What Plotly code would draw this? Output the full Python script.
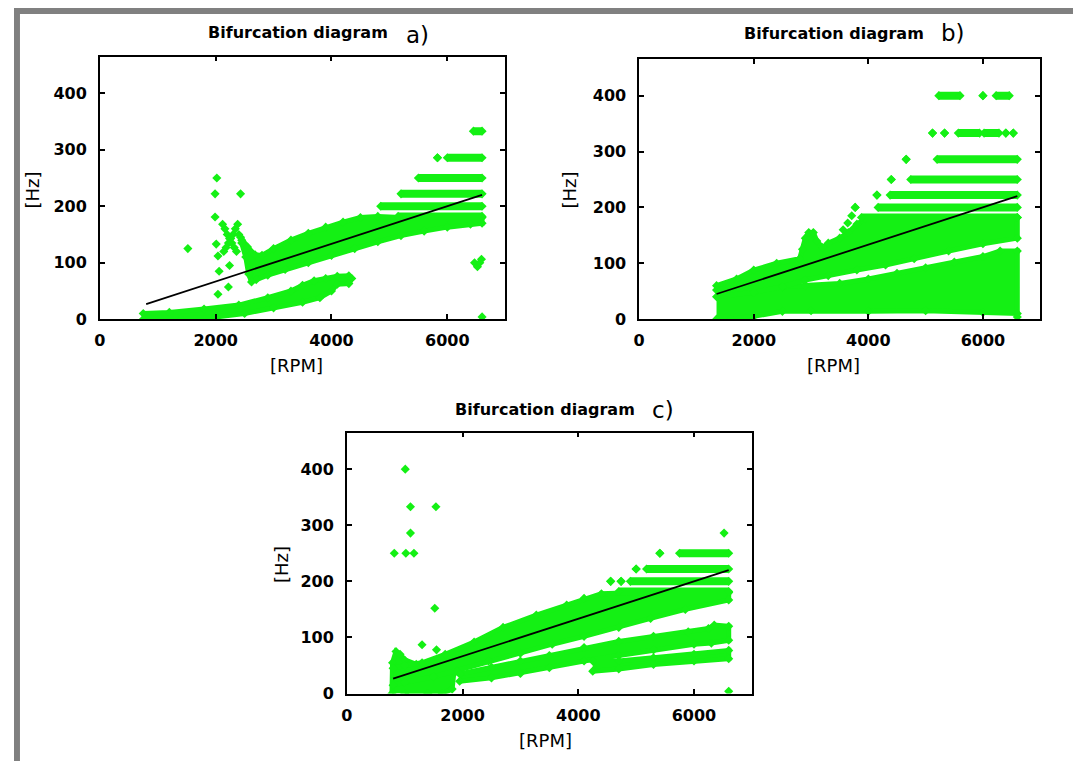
import plotly.graph_objects as go

# ---------------- DATA ----------------
X_TICKS = [0, 2000, 4000, 6000]
Y_TICKS = [0, 100, 200, 300, 400]
X_RANGE = [0, 7000]
Y_RANGE = [0, 465]
TITLE = "Bifurcation diagram"
PANEL_TAGS = ["a)", "b)", "c)"]
X_LABEL = "[RPM]"
Y_LABEL = "[Hz]"

# fitted line (2nd order of engine speed)
A_line_x = [800, 6600]
A_line_y = [26.7, 220.0]
B_line_x = [1350, 6600]
B_line_y = [45.0, 220.0]
C_line_x = [800, 6600]
C_line_y = [26.7, 220.0]

# ---- panel a ----
A_low_x = [750, 1200, 1800, 2400, 2900, 3300, 3500, 3700, 3900, 4100, 4300, 4350,
           4300, 4100, 4000, 3800, 3500, 3000, 2500, 2000, 1400, 750]
A_low_y = [10, 12, 18, 25, 38, 50, 60, 68, 72, 76, 77, 72,
           63, 62, 50, 38, 30, 20, 10, 4, 0, 0]
A_main_x = [2430, 2550, 2680, 2800, 3000, 3300, 3600, 3900, 4200, 4500, 4800, 5200, 6000, 6600,
            6600, 6400, 6000, 5600, 5200, 4800, 4400, 4000, 3600, 3200, 2900, 2700, 2620, 2570, 2520, 2450]
A_main_y = [145, 128, 114, 113, 125, 140, 152, 163, 172, 180, 182, 180, 180, 180,
            170, 168, 163, 156, 148, 137, 125, 113, 100, 88, 78, 70, 66, 80, 110, 135]
A_row_level = [182, 200, 222, 250, 286, 286, 333]
A_row_start = [5150, 4850, 5200, 5500, 5830, 6000, 6450]
A_row_end = [6600, 6600, 6600, 6600, 5830, 6600, 6600]
A_pts_x = [1520, 2020, 1990, 2430, 1990, 2010, 2040, 2060, 2240, 2040, 2220,
           2120, 2160, 2200, 2240, 2280, 2320, 2360,
           2380, 2340, 2300, 2260, 2220, 2180, 2140,
           2400, 2450,
           6470, 6520, 6560, 6590, 6600]
A_pts_y = [125, 250, 222, 222, 181, 133, 112, 85, 95, 44, 57,
           168, 160, 150, 143, 135, 127, 120,
           168, 160, 150, 143, 135, 127, 120,
           150, 140,
           100, 93, 100, 106, 4]

# ---- panel b ----
B_up_x = [1350, 1700, 2000, 2400, 2800, 2850, 2900, 2960, 3040, 3100, 3200, 3300, 3500, 3650, 3800, 3950, 5000, 6600,
          6600, 6000, 5400, 4800, 4300, 3800, 3300, 2900, 2500, 2000, 1350]
B_up_y = [60, 72, 88, 100, 108, 125, 145, 155, 155, 140, 128, 136, 145, 155, 170, 180, 180, 182,
          145, 135, 122, 108, 97, 88, 78, 70, 58, 48, 40]
B_low_x = [1350, 2000, 2500, 2900, 3500, 4000, 4500, 5000, 5500, 6000, 6300, 6600,
           6600, 6000, 5000, 4000, 3000, 2500, 2000, 1600, 1350]
B_low_y = [52, 54, 58, 60, 64, 72, 82, 92, 102, 112, 122, 122,
           10, 12, 15, 14, 15, 14, 5, 0, 0]
B_row_level = [182, 200, 200, 222, 222, 250, 250, 286, 286,
               333, 333, 333, 333, 333, 333, 400, 400, 400]
B_row_start = [3880, 3770, 4170, 4150, 4380, 4400, 4740, 4660, 5200,
               5120, 5330, 5570, 6020, 6400, 6530, 5230, 6000, 6230]
B_row_end = [6600, 3770, 6600, 4150, 6600, 4400, 6600, 4660, 6600,
             5120, 5330, 5940, 6280, 6400, 6530, 5600, 6000, 6460]
B_pts_x = [3560, 3640, 3710, 6600]
B_pts_y = [160, 172, 185, 4]

# ---- panel c ----
C_up_x = [800, 1000, 1300, 1700, 2200, 2700, 3275, 3800, 4100, 4400, 5000, 6600,
          6600, 5850, 5250, 4700, 4100, 3550, 3000, 2450, 1900, 1500, 1000, 800]
C_up_y = [45, 50, 55, 70, 92, 118, 140, 158, 170, 178, 180, 180,
          167, 150, 134, 118, 102, 88, 72, 58, 40, 30, 20, 15]
C_left_x = [780, 790, 850, 920, 1000, 1200, 1400, 1700, 1850, 1820, 1650, 1400, 1000]
C_left_y = [0, 55, 75, 70, 60, 52, 48, 44, 38, 8, 0, 0, 0]
C_mid_x = [1950, 2500, 3000, 3500, 4100, 4700, 5300, 5900, 6250, 6350, 6600,
           6600, 6300, 6000, 5300, 4700, 4100, 3500, 3000, 2500, 1950]
C_mid_y = [35, 47, 58, 68, 82, 93, 102, 110, 116, 122, 120,
           95, 90, 88, 78, 68, 58, 46, 36, 28, 22]
C_bot_x = [4250, 4700, 5300, 6000, 6600, 6600, 6000, 5300, 4700, 4250]
C_bot_y = [58, 58, 64, 70, 77, 62, 58, 52, 44, 40]
C_row_level = [182, 200, 200, 200, 222, 222, 250, 250]
C_row_start = [4700, 4560, 4740, 4900, 5000, 5180, 5410, 5750]
C_row_end = [6600, 4560, 4740, 6600, 5000, 6600, 5410, 6600]
C_pts_x = [1010, 1100, 1540, 1100, 820, 1020, 1160, 1520, 1300, 1550, 6520, 6600]
C_pts_y = [400, 333, 333, 286, 250, 250, 250, 152, 87, 78, 286, 4]

# ---------------- STYLE / LAYOUT ----------------
OFF = 8                      # default page margin of the html body
W, H = 1081 - OFF, 771 - OFF
GREEN = "#14f014"
FONT = "DejaVu Sans"


def fx(p):
    return (p - OFF) / W


def fy(p):
    return 1 - (p - OFF) / H


# pixel boxes (in the 1081x771 picture): left, right, top, bottom
BOXES = [(94.3, 502.0, 57.3, 323.3), (636.7, 1040.0, 60.0, 323.3), (342.7, 750.0, 438.3, 702.7)]

fig = go.Figure()


def rows_xy(levels, starts, ends):
    xs, ys = [], []
    for lv, s, e in zip(levels, starts, ends):
        xs += [s, e, None]
        ys += [lv, lv, None]
    return xs, ys


panels = [
    dict(bands=[(A_low_x, A_low_y), (A_main_x, A_main_y)],
         rows=(A_row_level, A_row_start, A_row_end), pts=(A_pts_x, A_pts_y), line=(A_line_x, A_line_y)),
    dict(bands=[(B_low_x, B_low_y), (B_up_x, B_up_y)],
         rows=(B_row_level, B_row_start, B_row_end), pts=(B_pts_x, B_pts_y), line=(B_line_x, B_line_y)),
    dict(bands=[(C_left_x, C_left_y), (C_up_x, C_up_y), (C_mid_x, C_mid_y), (C_bot_x, C_bot_y)],
         rows=(C_row_level, C_row_start, C_row_end), pts=(C_pts_x, C_pts_y), line=(C_line_x, C_line_y)),
]

for i, p in enumerate(panels):
    xa = "x" if i == 0 else f"x{i+1}"
    ya = "y" if i == 0 else f"y{i+1}"
    for bx, by in p["bands"]:
        fig.add_trace(go.Scatter(x=bx, y=by, mode="lines+markers", fill="toself", fillcolor=GREEN,
                                 line=dict(color=GREEN, width=5),
                                 marker=dict(symbol="diamond", size=7, color=GREEN),
                                 xaxis=xa, yaxis=ya, hoverinfo="skip", showlegend=False))
    rx, ry = rows_xy(*p["rows"])
    fig.add_trace(go.Scatter(x=rx, y=ry, mode="lines+markers", line=dict(color=GREEN, width=8),
                             marker=dict(symbol="diamond", size=7, color=GREEN),
                             xaxis=xa, yaxis=ya, showlegend=False))
    fig.add_trace(go.Scatter(x=p["pts"][0], y=p["pts"][1], mode="markers",
                             marker=dict(symbol="diamond", size=7, color=GREEN),
                             xaxis=xa, yaxis=ya, showlegend=False))
    fig.add_trace(go.Scatter(x=p["line"][0], y=p["line"][1], mode="lines",
                             line=dict(color="black", width=1.8),
                             xaxis=xa, yaxis=ya, showlegend=False))

axis_common = dict(showline=True, linecolor="black", linewidth=1.5, mirror="allticks",
                   ticks="inside", ticklen=5, tickwidth=1.5, tickcolor="black",
                   showgrid=False, zeroline=False, fixedrange=True,
                   tickfont=dict(family=FONT, size=16, color="black", weight="bold"))

layout = dict(width=W, height=H, autosize=False, margin=dict(l=0, r=0, t=0, b=0),
              paper_bgcolor="white", plot_bgcolor="white", showlegend=False)

for i, (l, r, t, b) in enumerate(BOXES):
    xk = "xaxis" if i == 0 else f"xaxis{i+1}"
    yk = "yaxis" if i == 0 else f"yaxis{i+1}"
    ya = "y" if i == 0 else f"y{i+1}"
    xa = "x" if i == 0 else f"x{i+1}"
    layout[xk] = dict(domain=[fx(l), fx(r)], range=X_RANGE, tickvals=X_TICKS,
                      anchor=ya, ticklabelstandoff=6, **axis_common)
    layout[yk] = dict(domain=[fy(b), fy(t)], range=Y_RANGE, tickvals=Y_TICKS,
                      anchor=xa, ticklabelstandoff=8, **axis_common)

fig.update_layout(**layout)

# titles and axis labels (pixel positions in the picture)
title_pos = [(294, 33, 414, 35), (833, 34, 952, 33), (542, 415, 661, 415)]
xlab_pos = [(292, 370), (832, 370), (542, 750)]
ylab_pos = [(27, 192), (567, 192), (277, 572)]
anns = []
for i in range(3):
    tx, ty, px_, py_ = title_pos[i]
    anns.append(dict(text=TITLE, x=fx(tx), y=fy(ty), xref="paper", yref="paper", showarrow=False,
                     xanchor="center", yanchor="middle",
                     font=dict(family=FONT, size=16, color="black", weight="bold")))
    anns.append(dict(text=PANEL_TAGS[i], x=fx(px_), y=fy(py_), xref="paper", yref="paper", showarrow=False,
                     xanchor="center", yanchor="middle",
                     font=dict(family=FONT, size=23, color="black")))
    anns.append(dict(text=X_LABEL, x=fx(xlab_pos[i][0]), y=fy(xlab_pos[i][1]), xref="paper", yref="paper",
                     showarrow=False, xanchor="center", yanchor="middle",
                     font=dict(family=FONT, size=18, color="black")))
    anns.append(dict(text=Y_LABEL, x=fx(ylab_pos[i][0]), y=fy(ylab_pos[i][1]), xref="paper", yref="paper",
                     showarrow=False, xanchor="center", yanchor="middle", textangle=-90,
                     font=dict(family=FONT, size=18, color="black")))
fig.update_layout(annotations=anns)

# gray frame of the original picture
GRAY = "#808080"
fig.update_layout(shapes=[
    dict(type="rect", xref="paper", yref="paper", x0=0, x1=fx(14), y0=0, y1=1,
         fillcolor=GRAY, line=dict(width=0), layer="below"),
    dict(type="rect", xref="paper", yref="paper", x0=0, x1=1, y0=fy(14), y1=1,
         fillcolor=GRAY, line=dict(width=0), layer="below"),
    dict(type="rect", xref="paper", yref="paper", x0=fx(1079), x1=1, y0=0, y1=1,
         fillcolor=GRAY, line=dict(width=0), layer="below"),
])

fig.write_html("out.html")
